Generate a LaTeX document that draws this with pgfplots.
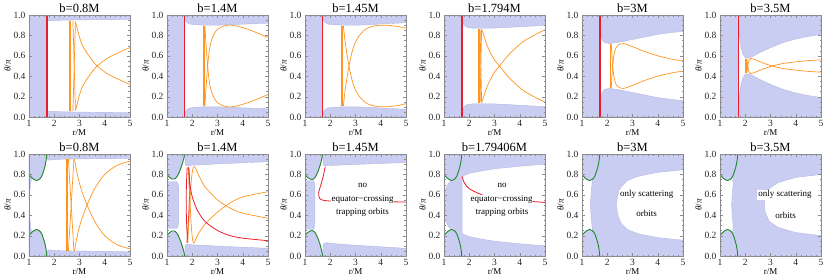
\documentclass[border=0pt]{standalone}
\usepackage{pgfplots}
\pgfplotsset{compat=1.18}
\usepackage{fontspec}
\setmainfont{Liberation Serif}
\definecolor{regc}{RGB}{200,205,241}
\definecolor{regedge}{RGB}{178,184,226}
\definecolor{orb}{RGB}{255,148,30}
\definecolor{redc}{RGB}{232,30,45}
\definecolor{grn}{RGB}{35,135,45}
\pgfplotsset{
 every axis title shift=0pt,
 panel/.style={
  scale only axis, width=101pt, height=102pt,
  xmin=1, xmax=5, ymin=0, ymax=1,
  xtick={1,2,3,4,5}, ytick={0,0.2,0.4,0.6,0.8,1},
  minor x tick num=4, minor y tick num=3,
  tick align=inside, major tick length=3pt, minor tick length=1.5pt,
  axis line style={black!45}, tick style={black!45},
  /pgf/number format/assume math mode=true,
  yticklabel style={/pgf/number format/fixed,/pgf/number format/fixed zerofill,/pgf/number format/precision=1},
  tick label style={font=\fontsize{9.5}{10}\selectfont, text=black!85},
  xlabel={r/M}, ylabel={\textit{θ}/\textit{π}},
  label style={font=\fontsize{9}{10}\selectfont},
  xlabel style={yshift=4pt},
  ylabel style={yshift=-4pt},
  title style={font=\fontsize{12.5}{13}\selectfont, at={(0.5,1)}, anchor=base, yshift=3pt, inner sep=0pt},
  axis on top, anchor=south west,
 },
 bfill/.style={fill=regc, draw=regedge, line width=0.4pt},
 wfill/.style={fill=white, draw=regedge, line width=0.4pt},
 orth/.style={orb, line width=1.6pt},
 orl/.style={orb, line width=0.7pt},
 rdl/.style={redc, line width=0.8pt},
 rdv/.style={draw=redc, line width=1.3pt, opacity=1},
 gnl/.style={grn, line width=0.9pt, smooth},
}
\newcommand{\txt}[3]{\node[font=\fontsize{9}{10}\selectfont, fill=white, inner sep=0.8pt] at (axis cs:#1,#2) {#3};}
\begin{document}
\begin{tikzpicture}
\useasboundingbox (0,0) rectangle (830pt,277pt);
% ================= TOP ROW =================
\begin{axis}[panel, at={(29pt,160pt)}, title={b=0.8M}]
\addplot[fill=regc, draw=none] coordinates {(1,0)(1.7,0)(1.7,1)(1,1)} --cycle;
\addplot[bfill] coordinates {(1.7,1)(1.705,0.98)(1.72,0.96)(1.75,0.948)(1.8,0.943)(1.9,0.944)(2.2,0.948)(3,0.952)(4,0.955)(5,0.956)(5,1)} --cycle;
\addplot[bfill] coordinates {(1.7,0)(1.705,0.02)(1.72,0.04)(1.75,0.052)(1.8,0.057)(1.9,0.056)(2.2,0.052)(3,0.048)(4,0.045)(5,0.044)(5,0)} --cycle;
\addplot[orth] coordinates {(2.62,0.06)(2.62,0.94)};
\addplot[orl] coordinates {(2.74,0.06)(2.84,0.935)};
\addplot[orl] coordinates {(2.74,0.94)(2.84,0.065)};
\addplot[orl, smooth] coordinates {(2.84,0.935)(2.9,0.88)(2.98,0.8)(3.12,0.7)(3.4,0.59)(3.7,0.5)(4.2,0.41)(5,0.32)};
\addplot[orl, smooth] coordinates {(2.84,0.065)(2.9,0.12)(2.98,0.2)(3.12,0.3)(3.4,0.41)(3.7,0.5)(4.2,0.59)(5,0.68)};
\addplot[rdv] coordinates {(1.71,0)(1.71,1)};
\end{axis}
\begin{axis}[panel, at={(167pt,160pt)}, title={b=1.4M}]
\addplot[fill=regc, draw=none] coordinates {(1,0)(1.7,0)(1.7,1)(1,1)} --cycle;
\addplot[bfill] coordinates {(1.7,1)(1.71,0.975)(1.74,0.945)(1.8,0.925)(1.9,0.912)(2.1,0.905)(2.5,0.9)(3,0.9)(3.5,0.905)(4,0.91)(4.5,0.915)(5,0.92)(5,1)} --cycle;
\addplot[bfill] coordinates {(1.7,0)(1.71,0.025)(1.74,0.055)(1.8,0.075)(1.9,0.088)(2.1,0.095)(2.5,0.1)(3,0.1)(3.5,0.095)(4,0.09)(4.5,0.085)(5,0.08)(5,0)} --cycle;
\addplot[orth] coordinates {(2.46,0.11)(2.46,0.89)};
\addplot[orl, smooth] coordinates {(2.5,0.11)(2.55,0.3)(2.61,0.5)(2.68,0.66)(2.8,0.78)(3,0.86)(3.3,0.895)(3.6,0.9)(4.2,0.86)(5,0.78)};
\addplot[orl, smooth] coordinates {(2.5,0.89)(2.55,0.7)(2.61,0.5)(2.68,0.34)(2.8,0.22)(3,0.14)(3.3,0.105)(3.6,0.1)(4.2,0.14)(5,0.22)};
\addplot[rdv] coordinates {(1.7,0)(1.7,1)};
\end{axis}
\begin{axis}[panel, at={(305pt,160pt)}, title={b=1.45M}]
\addplot[fill=regc, draw=none] coordinates {(1,0)(1.7,0)(1.7,1)(1,1)} --cycle;
\addplot[bfill] coordinates {(1.7,1)(1.71,0.975)(1.74,0.945)(1.8,0.925)(1.9,0.912)(2.1,0.905)(2.5,0.9)(3,0.9)(3.5,0.905)(4,0.912)(4.5,0.918)(5,0.925)(5,1)} --cycle;
\addplot[bfill] coordinates {(1.7,0)(1.71,0.025)(1.74,0.055)(1.8,0.075)(1.9,0.088)(2.1,0.095)(2.5,0.1)(3,0.1)(3.5,0.095)(4,0.088)(4.5,0.082)(5,0.075)(5,0)} --cycle;
\addplot[orth] coordinates {(2.47,0.11)(2.47,0.89)};
\addplot[orl, smooth] coordinates {(2.52,0.11)(2.6,0.28)(2.74,0.5)(2.9,0.67)(3.1,0.78)(3.4,0.86)(3.8,0.895)(4.2,0.9)(4.6,0.89)(5,0.87)};
\addplot[orl, smooth] coordinates {(2.52,0.89)(2.6,0.72)(2.74,0.5)(2.9,0.33)(3.1,0.22)(3.4,0.14)(3.8,0.105)(4.2,0.1)(4.6,0.11)(5,0.13)};
\addplot[rdv] coordinates {(1.7,0)(1.7,1)};
\end{axis}
\begin{axis}[panel, at={(444pt,160pt)}, title={b=1.794M}]
\addplot[fill=regc, draw=none] coordinates {(1,0)(1.7,0)(1.7,1)(1,1)} --cycle;
\addplot[bfill] coordinates {(1.7,1)(1.71,0.97)(1.74,0.93)(1.8,0.9)(1.9,0.88)(2.1,0.872)(2.5,0.87)(3,0.872)(3.5,0.878)(4,0.885)(4.5,0.892)(5,0.9)(5,1)} --cycle;
\addplot[bfill] coordinates {(1.7,0)(1.71,0.03)(1.74,0.07)(1.8,0.1)(1.9,0.12)(2.1,0.128)(2.5,0.13)(3,0.128)(3.5,0.122)(4,0.115)(4.5,0.108)(5,0.1)(5,0)} --cycle;
\addplot[orth] coordinates {(2.38,0.14)(2.38,0.86)};
\addplot[orl] coordinates {(2.43,0.14)(2.49,0.86)};
\addplot[orl] coordinates {(2.43,0.86)(2.49,0.14)};
\addplot[orl, smooth] coordinates {(2.49,0.86)(2.55,0.82)(2.65,0.74)(2.8,0.65)(3.0,0.56)(3.2,0.5)(3.6,0.38)(4.2,0.25)(5,0.145)};
\addplot[orl, smooth] coordinates {(2.49,0.14)(2.55,0.18)(2.65,0.26)(2.8,0.35)(3.0,0.44)(3.2,0.5)(3.6,0.62)(4.2,0.75)(5,0.855)};
\addplot[rdv] coordinates {(1.71,0)(1.71,1)};
\end{axis}
\begin{axis}[panel, at={(582pt,160pt)}, title={b=3M}]
\addplot[fill=regc, draw=none] coordinates {(1,0)(1.7,0)(1.7,1)(1,1)} --cycle;
\addplot[bfill] coordinates {(1.7,1)(1.71,0.97)(1.73,0.9)(1.76,0.8)(1.8,0.755)(1.9,0.728)(2.1,0.72)(2.5,0.735)(3,0.76)(3.5,0.785)(4,0.81)(4.5,0.827)(5,0.84)(5,1)} --cycle;
\addplot[bfill] coordinates {(1.7,0)(1.71,0.03)(1.73,0.1)(1.76,0.2)(1.8,0.245)(1.9,0.272)(2.1,0.28)(2.5,0.265)(3,0.24)(3.5,0.215)(4,0.19)(4.5,0.173)(5,0.16)(5,0)} --cycle;
\addplot[orth] coordinates {(2.13,0.28)(2.13,0.72)};
\addplot[orl, smooth] coordinates {(2.16,0.28)(2.2,0.45)(2.26,0.6)(2.35,0.68)(2.5,0.715)(2.65,0.72)(3,0.69)(3.5,0.64)(4,0.6)(4.5,0.57)(5,0.55)};
\addplot[orl, smooth] coordinates {(2.16,0.72)(2.2,0.55)(2.26,0.4)(2.35,0.32)(2.5,0.285)(2.65,0.28)(3,0.31)(3.5,0.36)(4,0.4)(4.5,0.43)(5,0.45)};
\addplot[rdv] coordinates {(1.71,0)(1.71,1)};
\end{axis}
\begin{axis}[panel, at={(720pt,160pt)}, title={b=3.5M}]
\addplot[fill=regc, draw=none] coordinates {(1,0)(1.72,0)(1.72,1)(1,1)} --cycle;
\addplot[bfill] coordinates {(1.72,1)(1.74,0.9)(1.77,0.8)(1.82,0.7)(1.9,0.62)(2.0,0.58)(2.1,0.575)(2.3,0.595)(2.6,0.635)(3,0.68)(3.5,0.73)(4,0.765)(4.5,0.79)(5,0.81)(5,1)} --cycle;
\addplot[bfill] coordinates {(1.72,0)(1.74,0.1)(1.77,0.2)(1.82,0.3)(1.9,0.38)(2.0,0.42)(2.1,0.425)(2.3,0.405)(2.6,0.365)(3,0.32)(3.5,0.27)(4,0.235)(4.5,0.21)(5,0.19)(5,0)} --cycle;
\addplot[orth] coordinates {(2.04,0.43)(2.04,0.57)};
\addplot[orl, smooth] coordinates {(2.06,0.43)(2.1,0.5)(2.15,0.56)(2.22,0.575)(2.4,0.56)(2.7,0.53)(3.07,0.5)(3.5,0.475)(4,0.46)(4.5,0.447)(5,0.44)};
\addplot[orl, smooth] coordinates {(2.06,0.57)(2.1,0.5)(2.15,0.44)(2.22,0.425)(2.4,0.44)(2.7,0.47)(3.07,0.5)(3.5,0.525)(4,0.54)(4.5,0.553)(5,0.56)};
\addplot[rdv] coordinates {(1.72,0)(1.72,1)};
\end{axis}
% ================= BOTTOM ROW =================
\begin{axis}[panel, at={(29pt,21pt)}, title={b=0.8M}]
\addplot[bfill] coordinates {(1,1)(1,0.55)(1.03,0.62)(1.06,0.7)(1.1,0.77)(1.2,0.75)(1.3,0.74)(1.4,0.75)(1.5,0.78)(1.6,0.85)(1.65,0.9)(1.69,0.96)(1.7,1)} --cycle;
\addplot[bfill] coordinates {(1,0)(1,0.45)(1.03,0.38)(1.06,0.3)(1.1,0.23)(1.2,0.25)(1.3,0.26)(1.4,0.25)(1.5,0.22)(1.6,0.15)(1.65,0.1)(1.69,0.04)(1.7,0)} --cycle;
\addplot[bfill] coordinates {(1.7,1)(1.72,0.96)(1.76,0.94)(1.85,0.942)(2.2,0.948)(3,0.952)(4,0.955)(5,0.956)(5,1)} --cycle;
\addplot[bfill] coordinates {(1.7,0)(1.72,0.04)(1.76,0.06)(1.85,0.058)(2.2,0.052)(3,0.048)(4,0.045)(5,0.044)(5,0)} --cycle;
\addplot[gnl] coordinates {(1,0.8)(1.1,0.77)(1.2,0.75)(1.3,0.74)(1.4,0.75)(1.5,0.78)(1.6,0.85)(1.65,0.9)(1.69,0.96)(1.7,1)};
\addplot[gnl] coordinates {(1,0.2)(1.1,0.23)(1.2,0.25)(1.3,0.26)(1.4,0.25)(1.5,0.22)(1.6,0.15)(1.65,0.1)(1.69,0.04)(1.7,0)};
\addplot[orth] coordinates {(2.5,0.05)(2.5,0.95)};
\addplot[orl] coordinates {(2.56,0.05)(2.78,0.95)};
\addplot[orl] coordinates {(2.56,0.95)(2.78,0.05)};
\addplot[orl, smooth] coordinates {(2.8,0.95)(2.85,0.88)(2.95,0.76)(3.1,0.63)(3.3,0.5)(3.6,0.34)(4,0.2)(4.5,0.11)(5,0.07)};
\addplot[orl, smooth] coordinates {(2.8,0.05)(2.85,0.12)(2.95,0.24)(3.1,0.37)(3.3,0.5)(3.6,0.66)(4,0.8)(4.5,0.89)(5,0.93)};
\end{axis}
\begin{axis}[panel, at={(167pt,21pt)}, title={b=1.4M}]
\addplot[bfill] coordinates {(1,1)(1,0.8)(1.1,0.77)(1.2,0.755)(1.3,0.755)(1.4,0.78)(1.5,0.83)(1.6,0.9)(1.67,0.96)(1.7,1)} --cycle;
\addplot[bfill] coordinates {(1,0)(1,0.2)(1.1,0.23)(1.2,0.245)(1.3,0.245)(1.4,0.22)(1.5,0.17)(1.6,0.1)(1.67,0.04)(1.7,0)} --cycle;
\addplot[bfill] coordinates {(1,0.27)(1.38,0.27)(1.43,0.29)(1.46,0.33)(1.46,0.67)(1.43,0.71)(1.38,0.73)(1,0.73)} --cycle;
\addplot[bfill] coordinates {(1.7,1)(1.72,0.9)(1.76,0.885)(2,0.89)(3,0.903)(4,0.914)(5,0.925)(5,1)} --cycle;
\addplot[bfill] coordinates {(1.7,0)(1.72,0.1)(1.76,0.115)(2,0.11)(3,0.097)(4,0.086)(5,0.075)(5,0)} --cycle;
\addplot[gnl] coordinates {(1,0.8)(1.1,0.77)(1.2,0.755)(1.3,0.755)(1.4,0.78)(1.5,0.83)(1.6,0.9)(1.67,0.96)(1.7,1)};
\addplot[gnl] coordinates {(1,0.2)(1.1,0.23)(1.2,0.245)(1.3,0.245)(1.4,0.22)(1.5,0.17)(1.6,0.1)(1.67,0.04)(1.7,0)};
\addplot[rdl, smooth] coordinates {(1.8,0.87)(1.77,0.7)(1.76,0.5)(1.78,0.3)(1.82,0.13)};
\addplot[rdl, smooth] coordinates {(1.79,0.13)(1.85,0.35)(1.89,0.6)(1.87,0.86)};
\addplot[orl, smooth] coordinates {(1.82,0.13)(1.88,0.4)(1.95,0.7)(2.02,0.85)(2.1,0.875)(2.2,0.82)(2.5,0.68)(3,0.55)(3.5,0.47)(4,0.42)(5,0.37)};
\addplot[orl, smooth] coordinates {(1.84,0.87)(1.9,0.6)(1.96,0.3)(2.02,0.15)(2.08,0.13)(2.2,0.2)(2.5,0.31)(3,0.43)(3.5,0.52)(4,0.58)(5,0.63)};
\addplot[rdl, smooth] coordinates {(1.86,0.875)(1.9,0.72)(2.0,0.58)(2.2,0.45)(2.5,0.34)(3,0.25)(3.5,0.2)(4,0.175)(5,0.15)};
\end{axis}
\begin{axis}[panel, at={(305pt,21pt)}, title={b=1.45M}]
\addplot[bfill] coordinates {(1,1)(1,0.8)(1.1,0.77)(1.2,0.755)(1.3,0.75)(1.4,0.77)(1.5,0.82)(1.6,0.89)(1.67,0.96)(1.7,1)} --cycle;
\addplot[bfill] coordinates {(1,0)(1,0.2)(1.1,0.23)(1.2,0.245)(1.3,0.25)(1.4,0.23)(1.5,0.18)(1.6,0.11)(1.67,0.04)(1.7,0)} --cycle;
\addplot[bfill] coordinates {(1,0.26)(1.33,0.26)(1.37,0.28)(1.39,0.32)(1.39,0.68)(1.37,0.72)(1.33,0.74)(1,0.74)} --cycle;
\addplot[bfill] coordinates {(1.7,1)(1.72,0.9)(1.76,0.885)(2,0.888)(3,0.898)(4,0.907)(5,0.917)(5,1)} --cycle;
\addplot[bfill] coordinates {(1.7,0)(1.72,0.1)(1.76,0.125)(1.85,0.13)(2.2,0.12)(3,0.105)(4,0.09)(5,0.075)(5,0)} --cycle;
\addplot[gnl] coordinates {(1,0.8)(1.1,0.77)(1.2,0.755)(1.3,0.75)(1.4,0.77)(1.5,0.82)(1.6,0.89)(1.67,0.96)(1.7,1)};
\addplot[gnl] coordinates {(1,0.2)(1.1,0.23)(1.2,0.245)(1.3,0.25)(1.4,0.23)(1.5,0.18)(1.6,0.11)(1.67,0.04)(1.7,0)};
\addplot[rdl, smooth] coordinates {(1.8,0.875)(1.72,0.78)(1.62,0.69)(1.54,0.62)(1.58,0.565)(1.75,0.545)(2.2,0.537)(3,0.533)(5,0.53)};
\txt{3.28}{0.69}{no}
\txt{3.28}{0.555}{equator−crossing}
\txt{3.28}{0.43}{trapping orbits}
\end{axis}
\begin{axis}[panel, at={(444pt,21pt)}, title={b=1.79406M}]
\addplot[fill=regc, draw=none] coordinates {(1,0)(5,0)(5,1)(1,1)} --cycle;
\addplot[wfill] coordinates {(1.72,0.22)(1.72,0.78)(1.8,0.79)(2,0.81)(2.5,0.835)(3,0.855)(4,0.88)(5,0.9)(5,0.1)(4,0.12)(3,0.145)(2.5,0.165)(2,0.19)(1.8,0.21)} --cycle;
\addplot[wfill] coordinates {(1,0.8)(1.1,0.77)(1.2,0.752)(1.3,0.745)(1.2,0.72)(1.1,0.68)(1.04,0.64)(1,0.6)} --cycle;
\addplot[wfill] coordinates {(1,0.2)(1.1,0.23)(1.2,0.248)(1.3,0.255)(1.2,0.28)(1.1,0.32)(1.04,0.36)(1,0.4)} --cycle;
\addplot[gnl] coordinates {(1,0.8)(1.1,0.77)(1.2,0.75)(1.3,0.74)(1.4,0.75)(1.5,0.78)(1.6,0.85)(1.65,0.9)(1.69,0.96)(1.7,1)};
\addplot[gnl] coordinates {(1,0.2)(1.1,0.23)(1.2,0.25)(1.3,0.26)(1.4,0.25)(1.5,0.22)(1.6,0.15)(1.65,0.1)(1.69,0.04)(1.7,0)};
\addplot[rdl, smooth] coordinates {(1.72,0.78)(1.8,0.72)(2,0.66)(2.5,0.6)(3,0.57)(4,0.545)(5,0.525)};
\txt{3.3}{0.69}{no}
\txt{3.28}{0.555}{equator−crossing}
\txt{3.3}{0.43}{trapping orbits}
\end{axis}
\begin{axis}[panel, at={(582pt,21pt)}, title={b=3M}]
\addplot[fill=regc, draw=none] coordinates {(1,0)(5,0)(5,1)(1,1)} --cycle;
\addplot[wfill] coordinates {(5,0.845)(4,0.82)(3.2,0.78)(2.8,0.74)(2.55,0.68)(2.42,0.6)(2.36,0.5)(2.42,0.4)(2.55,0.32)(2.8,0.26)(3.2,0.22)(4,0.18)(5,0.155)} --cycle;
\addplot[wfill] coordinates {(1,0.8)(1.1,0.77)(1.2,0.75)(1.3,0.74)(1.42,0.75)(1.37,0.65)(1.33,0.5)(1.37,0.35)(1.42,0.25)(1.3,0.26)(1.2,0.25)(1.1,0.23)(1,0.2)} --cycle;
\addplot[gnl] coordinates {(1,0.8)(1.1,0.77)(1.2,0.75)(1.3,0.74)(1.4,0.75)(1.5,0.78)(1.6,0.85)(1.65,0.9)(1.69,0.96)(1.7,1)};
\addplot[gnl] coordinates {(1,0.2)(1.1,0.23)(1.2,0.25)(1.3,0.26)(1.4,0.25)(1.5,0.22)(1.6,0.15)(1.65,0.1)(1.69,0.04)(1.7,0)};
\txt{3.56}{0.6}{only scattering}
\txt{3.56}{0.415}{orbits}
\end{axis}
\begin{axis}[panel, at={(720pt,21pt)}, title={b=3.5M}]
\addplot[fill=regc, draw=none] coordinates {(1,0)(5,0)(5,1)(1,1)} --cycle;
\addplot[wfill] coordinates {(5,0.8)(4,0.77)(3.3,0.72)(2.95,0.66)(2.8,0.58)(2.75,0.5)(2.8,0.42)(2.95,0.34)(3.3,0.28)(4,0.23)(5,0.2)} --cycle;
\addplot[wfill] coordinates {(1,0.8)(1.1,0.77)(1.2,0.75)(1.3,0.74)(1.4,0.75)(1.5,0.78)(1.52,0.7)(1.48,0.6)(1.46,0.5)(1.48,0.4)(1.52,0.3)(1.5,0.22)(1.4,0.25)(1.3,0.26)(1.2,0.25)(1.1,0.23)(1,0.2)} --cycle;
\addplot[gnl] coordinates {(1,0.8)(1.1,0.77)(1.2,0.75)(1.3,0.74)(1.4,0.75)(1.5,0.78)(1.6,0.85)(1.65,0.9)(1.69,0.96)(1.7,1)};
\addplot[gnl] coordinates {(1,0.2)(1.1,0.23)(1.2,0.25)(1.3,0.26)(1.4,0.25)(1.5,0.22)(1.6,0.15)(1.65,0.1)(1.69,0.04)(1.7,0)};
\txt{3.57}{0.6}{only scattering}
\txt{3.6}{0.4}{orbits}
\end{axis}
\end{tikzpicture}
\end{document}
